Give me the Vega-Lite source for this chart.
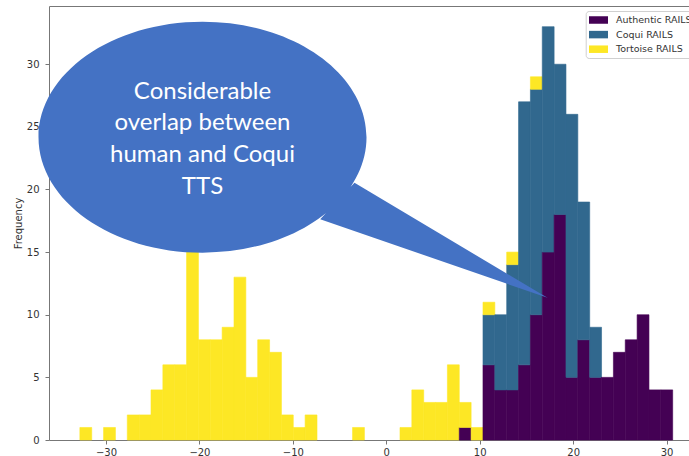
{
  "$schema": "https://vega.github.io/schema/vega-lite/v6.json",
  "width": 640,
  "height": 434,
  "autosize": {"type": "none"},
  "padding": {"left": 49, "top": 6, "right": 0, "bottom": 16},
  "background": "white",
  "config": {"view": {"stroke": null}, "font": "DejaVu Sans"},
  "datasets": {
    "bins": [
      {"bin_start": -32.850, "bin_end": -31.581, "series": "Tortoise RAILS", "count": 1},
      {"bin_start": -30.312, "bin_end": -29.043, "series": "Tortoise RAILS", "count": 1},
      {"bin_start": -27.774, "bin_end": -26.505, "series": "Tortoise RAILS", "count": 2},
      {"bin_start": -26.505, "bin_end": -25.236, "series": "Tortoise RAILS", "count": 2},
      {"bin_start": -25.236, "bin_end": -23.967, "series": "Tortoise RAILS", "count": 4},
      {"bin_start": -23.967, "bin_end": -22.698, "series": "Tortoise RAILS", "count": 6},
      {"bin_start": -22.698, "bin_end": -21.429, "series": "Tortoise RAILS", "count": 6},
      {"bin_start": -21.429, "bin_end": -20.160, "series": "Tortoise RAILS", "count": 17},
      {"bin_start": -20.160, "bin_end": -18.891, "series": "Tortoise RAILS", "count": 8},
      {"bin_start": -18.891, "bin_end": -17.622, "series": "Tortoise RAILS", "count": 8},
      {"bin_start": -17.622, "bin_end": -16.353, "series": "Tortoise RAILS", "count": 9},
      {"bin_start": -16.353, "bin_end": -15.084, "series": "Tortoise RAILS", "count": 13},
      {"bin_start": -15.084, "bin_end": -13.815, "series": "Tortoise RAILS", "count": 5},
      {"bin_start": -13.815, "bin_end": -12.546, "series": "Tortoise RAILS", "count": 8},
      {"bin_start": -12.546, "bin_end": -11.277, "series": "Tortoise RAILS", "count": 7},
      {"bin_start": -11.277, "bin_end": -10.008, "series": "Tortoise RAILS", "count": 2},
      {"bin_start": -10.008, "bin_end": -8.739, "series": "Tortoise RAILS", "count": 1},
      {"bin_start": -8.739, "bin_end": -7.470, "series": "Tortoise RAILS", "count": 2},
      {"bin_start": -3.663, "bin_end": -2.394, "series": "Tortoise RAILS", "count": 1},
      {"bin_start": 1.413, "bin_end": 2.682, "series": "Tortoise RAILS", "count": 1},
      {"bin_start": 2.682, "bin_end": 3.951, "series": "Tortoise RAILS", "count": 4},
      {"bin_start": 3.951, "bin_end": 5.220, "series": "Tortoise RAILS", "count": 3},
      {"bin_start": 5.220, "bin_end": 6.489, "series": "Tortoise RAILS", "count": 3},
      {"bin_start": 6.489, "bin_end": 7.758, "series": "Tortoise RAILS", "count": 6},
      {"bin_start": 7.758, "bin_end": 9.027, "series": "Authentic RAILS", "count": 1},
      {"bin_start": 7.758, "bin_end": 9.027, "series": "Tortoise RAILS", "count": 2},
      {"bin_start": 9.027, "bin_end": 10.296, "series": "Tortoise RAILS", "count": 1},
      {"bin_start": 10.296, "bin_end": 11.565, "series": "Authentic RAILS", "count": 6},
      {"bin_start": 10.296, "bin_end": 11.565, "series": "Coqui RAILS", "count": 4},
      {"bin_start": 10.296, "bin_end": 11.565, "series": "Tortoise RAILS", "count": 1},
      {"bin_start": 11.565, "bin_end": 12.834, "series": "Authentic RAILS", "count": 4},
      {"bin_start": 11.565, "bin_end": 12.834, "series": "Coqui RAILS", "count": 6},
      {"bin_start": 12.834, "bin_end": 14.103, "series": "Authentic RAILS", "count": 4},
      {"bin_start": 12.834, "bin_end": 14.103, "series": "Coqui RAILS", "count": 10},
      {"bin_start": 12.834, "bin_end": 14.103, "series": "Tortoise RAILS", "count": 1},
      {"bin_start": 14.103, "bin_end": 15.372, "series": "Authentic RAILS", "count": 6},
      {"bin_start": 14.103, "bin_end": 15.372, "series": "Coqui RAILS", "count": 21},
      {"bin_start": 15.372, "bin_end": 16.641, "series": "Authentic RAILS", "count": 10},
      {"bin_start": 15.372, "bin_end": 16.641, "series": "Coqui RAILS", "count": 18},
      {"bin_start": 15.372, "bin_end": 16.641, "series": "Tortoise RAILS", "count": 1},
      {"bin_start": 16.641, "bin_end": 17.910, "series": "Authentic RAILS", "count": 15},
      {"bin_start": 16.641, "bin_end": 17.910, "series": "Coqui RAILS", "count": 18},
      {"bin_start": 17.910, "bin_end": 19.179, "series": "Authentic RAILS", "count": 18},
      {"bin_start": 17.910, "bin_end": 19.179, "series": "Coqui RAILS", "count": 12},
      {"bin_start": 19.179, "bin_end": 20.448, "series": "Authentic RAILS", "count": 5},
      {"bin_start": 19.179, "bin_end": 20.448, "series": "Coqui RAILS", "count": 21},
      {"bin_start": 20.448, "bin_end": 21.717, "series": "Authentic RAILS", "count": 8},
      {"bin_start": 20.448, "bin_end": 21.717, "series": "Coqui RAILS", "count": 11},
      {"bin_start": 21.717, "bin_end": 22.986, "series": "Authentic RAILS", "count": 5},
      {"bin_start": 21.717, "bin_end": 22.986, "series": "Coqui RAILS", "count": 4},
      {"bin_start": 22.986, "bin_end": 24.255, "series": "Authentic RAILS", "count": 5},
      {"bin_start": 24.255, "bin_end": 25.524, "series": "Authentic RAILS", "count": 7},
      {"bin_start": 25.524, "bin_end": 26.793, "series": "Authentic RAILS", "count": 8},
      {"bin_start": 26.793, "bin_end": 28.062, "series": "Authentic RAILS", "count": 10},
      {"bin_start": 28.062, "bin_end": 29.331, "series": "Authentic RAILS", "count": 4},
      {"bin_start": 29.331, "bin_end": 30.600, "series": "Authentic RAILS", "count": 4}
    ],
    "note": [
      {"x": -19.67, "y": 24.18, "label": "Considerable\noverlap between\nhuman and Coqui\nTTS"}
    ]
  },
  "layer": [
    {
      "data": {"name": "bins"},
      "mark": {"type": "bar", "binSpacing": 0, "strokeWidth": 0.6},
      "encoding": {
        "x": {
          "field": "bin_start", "type": "quantitative", "bin": {"binned": true},
          "scale": {"domain": [-36.1, 32.4], "nice": false, "zero": false},
          "axis": {
            "orient": "bottom", "title": null, "grid": false,
            "values": [-30, -20, -10, 0, 10, 20, 30],
            "labelExpr": "replace(datum.label, '-', '\u2212')",
            "domainColor": "#777", "tickColor": "#777", "tickSize": 4,
            "labelFontSize": 10, "labelColor": "#333", "labelPadding": 3,
            "labelFont": "DejaVu Sans"
          }
        },
        "x2": {"field": "bin_end"},
        "y": {
          "field": "count", "type": "quantitative", "stack": "zero",
          "scale": {"domain": [0, 34.65], "nice": false, "zero": true},
          "axis": {
            "title": "Frequency", "grid": false,
            "values": [0, 5, 10, 15, 20, 25, 30],
            "domainColor": "#777", "tickColor": "#777", "tickSize": 4,
            "labelFontSize": 10, "labelColor": "#333", "labelPadding": 6,
            "labelFont": "DejaVu Sans",
            "titleFont": "DejaVu Sans", "titleFontSize": 10, "titleFontWeight": "normal",
            "titleColor": "#333", "titlePadding": 3
          }
        },
        "color": {
          "field": "series", "type": "nominal",
          "scale": {
            "domain": ["Authentic RAILS", "Coqui RAILS", "Tortoise RAILS"],
            "range": ["#440154", "#31688e", "#fde725"]
          },
          "legend": {
            "title": null, "orient": "none", "legendX": 536.7, "legendY": 5,
            "symbolType": "M-1.14,-0.75H2.66V0.75H-1.14Z", "symbolSize": 100,
            "symbolStrokeWidth": 0, "symbolOpacity": 1,
            "labelFont": "DejaVu Sans", "labelFontSize": 9.5, "labelColor": "#333",
            "labelOffset": 16.3, "rowPadding": 4.6, "padding": 4,
            "strokeColor": "#d0d0d0", "fillColor": "rgba(255,255,255,0.85)", "cornerRadius": 3
          }
        },
        "stroke": {
          "field": "series", "type": "nominal",
          "scale": {
            "domain": ["Authentic RAILS", "Coqui RAILS", "Tortoise RAILS"],
            "range": ["#440154", "#31688e", "#fde725"]
          },
          "legend": null
        },
        "order": {"field": "series", "sort": "ascending"}
      }
    },
    {
      "data": {"name": "note"},
      "mark": {
        "type": "point",
        "shape": "M1.64,0C1.64,0.6379 0.9058,1.155 0,1.155C-0.9058,1.155 -1.64,0.6379 -1.64,0C-1.64,-0.6379 -0.9058,-1.155 0,-1.155C0.9058,-1.155 1.64,-0.6379 1.64,0Z M1.52,0.457L3.45,1.607L1.177,0.82Z",
        "size": 40000, "filled": true, "opacity": 1, "color": "#4472C4", "strokeWidth": 0
      },
      "encoding": {
        "x": {
          "field": "x", "type": "quantitative",
          "scale": {"domain": [-36.1, 32.4], "nice": false, "zero": false},
          "axis": {"orient": "top", "labels": false, "ticks": false, "title": null, "grid": false, "domain": true, "domainColor": "#777"}
        },
        "y": {
          "field": "y", "type": "quantitative",
          "scale": {"domain": [0, 34.65], "nice": false, "zero": true},
          "axis": null
        }
      }
    },
    {
      "data": {"name": "note"},
      "mark": {
        "type": "text", "align": "center", "baseline": "middle", "lineBreak": "\n",
        "lineHeight": 31.7, "font": "Lato", "fontSize": 24, "color": "white", "dy": -45.5
      },
      "encoding": {
        "x": {
          "field": "x", "type": "quantitative",
          "scale": {"domain": [-36.1, 32.4], "nice": false, "zero": false},
          "axis": null
        },
        "y": {
          "field": "y", "type": "quantitative",
          "scale": {"domain": [0, 34.65], "nice": false, "zero": true},
          "axis": null
        },
        "text": {"field": "label"}
      }
    }
  ],
  "resolve": {"axis": {"x": "independent", "y": "independent"}}
}
